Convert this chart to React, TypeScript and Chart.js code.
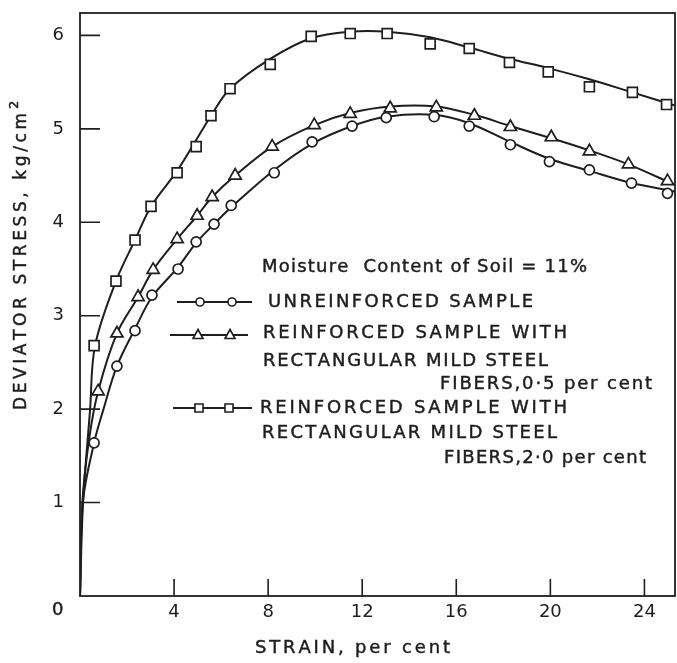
import { useEffect, useRef } from "react";
import { Chart, registerables } from "chart.js";

Chart.register(...registerables);

// ---- Data (strain %, deviator stress kg/cm^2) ----
// Unreinforced sample (circles)
const circleStrain = [0.6, 1.57, 2.34, 3.06, 4.17, 4.94, 5.7, 6.43, 8.26, 9.87, 11.57, 13.02, 15.06, 16.55, 18.3, 19.96, 21.66, 23.45, 24.98];
const circleStress = [1.64, 2.46, 2.84, 3.22, 3.5, 3.79, 3.98, 4.18, 4.53, 4.86, 5.03, 5.12, 5.13, 5.03, 4.83, 4.65, 4.56, 4.42, 4.31];
const circleCurveStrain = [0, 0.12, 0.6, 1.0, 1.57, 2.34, 3.06, 4.17, 4.94, 5.7, 6.43, 8.26, 9.87, 11.57, 13.02, 15.06, 16.55, 18.3, 19.96, 21.66, 23.45, 25.3];
const circleCurveStress = [0, 1.0, 1.64, 2.0, 2.46, 2.86, 3.2, 3.52, 3.78, 3.98, 4.16, 4.56, 4.84, 5.03, 5.13, 5.15, 5.06, 4.86, 4.68, 4.55, 4.42, 4.33];

// Reinforced, 0.5 per cent fibers (triangles)
const triStrain = [0.77, 1.57, 2.47, 3.11, 4.13, 4.98, 5.62, 6.6, 8.17, 9.96, 11.49, 13.19, 15.15, 16.77, 18.3, 20.04, 21.66, 23.32, 24.98];
const triStress = [2.19, 2.81, 3.2, 3.49, 3.82, 4.07, 4.27, 4.5, 4.81, 5.04, 5.16, 5.22, 5.23, 5.14, 5.02, 4.91, 4.76, 4.62, 4.44];
const triCurveStrain = [0, 0.1, 0.4, 0.77, 1.57, 2.47, 3.11, 4.13, 4.98, 5.62, 6.6, 8.17, 9.96, 11.49, 13.19, 15.15, 16.77, 18.3, 20.04, 21.66, 23.32, 25.3];
const triCurveStress = [0, 1.0, 1.7, 2.19, 2.81, 3.2, 3.49, 3.82, 4.07, 4.27, 4.5, 4.81, 5.04, 5.17, 5.24, 5.24, 5.15, 5.03, 4.9, 4.77, 4.62, 4.4];

// Reinforced, 2.0 per cent fibers (squares)
const sqStrain = [0.6, 1.53, 2.34, 3.02, 4.13, 4.94, 5.57, 6.38, 8.09, 9.83, 11.49, 13.06, 14.89, 16.55, 18.26, 19.91, 21.66, 23.49, 24.94];
const sqStress = [2.68, 3.37, 3.81, 4.17, 4.53, 4.81, 5.14, 5.43, 5.69, 5.99, 6.02, 6.02, 5.91, 5.86, 5.71, 5.61, 5.45, 5.39, 5.26];
const sqCurveStrain = [0, 0.13, 0.43, 0.64, 1.53, 2.34, 3.02, 4.13, 4.94, 5.57, 6.38, 8.09, 9.83, 11.49, 13.06, 14.89, 16.55, 18.26, 19.91, 21.66, 23.49, 25.3];
const sqCurveStress = [0, 1.0, 2.0, 2.68, 3.37, 3.81, 4.17, 4.55, 4.88, 5.14, 5.43, 5.75, 5.97, 6.04, 6.04, 5.98, 5.87, 5.75, 5.65, 5.53, 5.39, 5.25];

const xTicks = [4, 8, 12, 16, 20, 24];
const yTicks = [1, 2, 3, 4, 5, 6];

const xTitle = "STRAIN, per cent";
const yTitle = "DEVIATOR STRESS, kg/cm";
const yTitleSup = "2";
const legendHeader = "Moisture  Content of Soil = 11%";
const legendLines = [
  "UNREINFORCED SAMPLE",
  "REINFORCED SAMPLE WITH",
  "RECTANGULAR MILD STEEL",
  "FIBERS,0·5 per cent",
  "REINFORCED SAMPLE WITH",
  "RECTANGULAR MILD STEEL",
  "FIBERS,2·0 per cent",
];

const INK = "#1e1e1e";
const FONT = "DejaVu Sans";

const zip = (xs: number[], ys: number[]) => xs.map((x, i) => ({ x, y: ys[i] }));

function drawSpaced(ctx: CanvasRenderingContext2D, text: string, x: number, y: number, width: number) {
  const chars = Array.from(text);
  const ws = chars.map((c) => ctx.measureText(c).width);
  const total = ws.reduce((a, b) => a + b, 0);
  const gap = chars.length > 1 ? (width - total) / (chars.length - 1) : 0;
  let cx = x;
  chars.forEach((c, i) => {
    ctx.fillText(c, cx, y);
    ctx.strokeText(c, cx, y);
    cx += ws[i] + gap;
  });
}

function marker(ctx: CanvasRenderingContext2D, kind: string, x: number, y: number, s: number) {
  ctx.beginPath();
  if (kind === "circle") {
    ctx.arc(x, y, s, 0, Math.PI * 2);
  } else if (kind === "triangle") {
    ctx.moveTo(x, y - s * 1.1);
    ctx.lineTo(x + s, y + s * 0.7);
    ctx.lineTo(x - s, y + s * 0.7);
    ctx.closePath();
  } else {
    ctx.rect(x - s, y - s, 2 * s, 2 * s);
  }
  ctx.fillStyle = "#fff";
  ctx.fill();
  ctx.stroke();
}

const decor = {
  id: "decor",
  beforeDraw(chart: any) {
    const ctx = chart.ctx as CanvasRenderingContext2D;
    ctx.save();
    ctx.fillStyle = "#fff";
    ctx.fillRect(0, 0, chart.width, chart.height);
    ctx.restore();
  },
  afterDraw(chart: any) {
    const ctx = chart.ctx as CanvasRenderingContext2D;
    const { left, right, top, bottom } = chart.chartArea;
    const xs = chart.scales.x;
    const ys = chart.scales.y;
    ctx.save();
    ctx.strokeStyle = INK;
    ctx.fillStyle = INK;
    // frame
    ctx.lineWidth = 1.8;
    ctx.strokeRect(left, top, right - left, bottom - top);
    // inward ticks
    ctx.lineWidth = 1.6;
    ctx.beginPath();
    yTicks.forEach((v) => {
      const py = ys.getPixelForValue(v);
      ctx.moveTo(left, py);
      ctx.lineTo(left + 20, py);
    });
    xTicks.forEach((v) => {
      const px = xs.getPixelForValue(v);
      ctx.moveTo(px, bottom);
      ctx.lineTo(px, bottom - 17);
    });
    ctx.stroke();

    // text (slightly emboldened)
    ctx.lineWidth = 0.45;
    ctx.font = `18px "${FONT}"`;
    ctx.textBaseline = "middle";
    ctx.textAlign = "left";
    drawSpaced(ctx, "0", 52, 610, 0);

    drawSpaced(ctx, xTitle, 255, 648, 195);

    ctx.save();
    ctx.translate(22, 410);
    ctx.rotate(-Math.PI / 2);
    ctx.font = `17px "${FONT}"`;
    drawSpaced(ctx, yTitle, 0, 0, 297);
    ctx.font = `13px "${FONT}"`;
    drawSpaced(ctx, yTitleSup, 301, -7, 0);
    ctx.restore();

    // legend text
    ctx.font = `18px "${FONT}"`;
    drawSpaced(ctx, legendHeader, 262, 267, 325);
    const rows: [number, number, number][] = [
      [268, 302, 265],
      [263, 333, 304],
      [263, 361, 285],
      [440, 384, 212],
      [260, 408, 307],
      [262, 433, 295],
      [444, 458, 202],
    ];
    legendLines.forEach((t, i) => {
      const [x, y, w] = rows[i];
      drawSpaced(ctx, t, x, y, w);
    });

    // legend symbols
    const sym: [string, number, number, number, number, number][] = [
      ["circle", 177, 252, 302, 200, 232],
      ["triangle", 170, 248, 335, 198, 230],
      ["square", 173, 252, 408, 199, 229],
    ];
    sym.forEach(([k, x0, x1, y, m1, m2]) => {
      ctx.lineWidth = 2;
      ctx.beginPath();
      ctx.moveTo(x0, y);
      ctx.lineTo(x1, y);
      ctx.stroke();
      ctx.lineWidth = 1.6;
      const s = k === "circle" ? 4 : k === "triangle" ? 5 : 4;
      marker(ctx, k, m1, y, s);
      marker(ctx, k, m2, y, s);
    });
    ctx.restore();
  },
};

export default function App() {
  const ref = useRef<HTMLCanvasElement>(null);
  useEffect(() => {
    const curve = (xs: number[], ys: number[]) => ({
      data: zip(xs, ys),
      showLine: true,
      borderColor: INK,
      borderWidth: 2,
      pointRadius: 0,
      tension: 0.35,
      fill: false,
      order: 2,
    });
    const pts = (xs: number[], ys: number[], style: string, r: number) => ({
      data: zip(xs, ys),
      showLine: false,
      pointStyle: style,
      pointRadius: r,
      pointBackgroundColor: "#fff",
      pointBorderColor: INK,
      pointBorderWidth: 1.7,
      order: 1,
      clip: false,
    });
    const chart = new Chart(ref.current!, {
      type: "line",
      data: {
        datasets: [
          curve(circleCurveStrain, circleCurveStress),
          curve(triCurveStrain, triCurveStress),
          curve(sqCurveStrain, sqCurveStress),
          pts(circleStrain, circleStress, "circle", 5),
          pts(triStrain, triStress, "triangle", 7),
          pts(sqStrain, sqStress, "rect", 7),
        ] as any,
      },
      options: {
        animation: false,
        responsive: false,
        devicePixelRatio: 1,
        layout: { autoPadding: false, padding: { top: 13, right: 2, left: 0, bottom: 0 } },
        plugins: { legend: { display: false }, tooltip: { enabled: false } },
        scales: {
          x: {
            type: "linear",
            min: 0,
            max: 25.3,
            afterFit: (s: any) => {
              s.height = 67;
              s.paddingLeft = 0;
              s.paddingRight = 0;
            },
            grid: { display: false, drawTicks: false },
            border: { display: false },
            ticks: {
              stepSize: 4,
              includeBounds: false,
              autoSkip: false,
              maxRotation: 0,
              padding: 6,
              color: INK,
              font: { family: FONT, size: 18 },
              callback: (v: any) => (v === 0 ? "" : String(v)),
            },
          },
          y: {
            type: "linear",
            min: 0,
            max: 6.24,
            afterFit: (s: any) => {
              s.width = 80;
              s.paddingTop = 0;
              s.paddingBottom = 0;
            },
            grid: { display: false, drawTicks: false },
            border: { display: false },
            ticks: {
              stepSize: 1,
              includeBounds: false,
              autoSkip: false,
              padding: 16,
              color: INK,
              font: { family: FONT, size: 18 },
              callback: (v: any) => (v === 0 ? "" : String(v)),
            },
          },
        },
      },
      plugins: [decor],
    });
    return () => chart.destroy();
  }, []);
  return (
    <div style={{ position: "fixed", left: 0, top: 0, width: 677, height: 663, background: "#fff" }}>
      <canvas ref={ref} width={677} height={663} style={{ display: "block" }} />
    </div>
  );
}
